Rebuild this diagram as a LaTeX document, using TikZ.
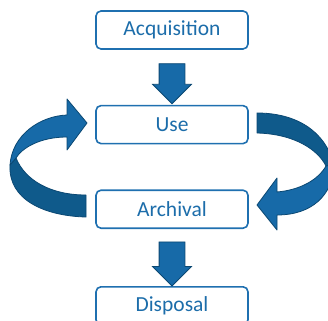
\documentclass[tikz,border=0pt]{standalone}
\usepackage{fontspec}
\setmainfont{Carlito}
\usetikzlibrary{positioning,shapes.arrows,calc}

\definecolor{boxblue}{HTML}{1F70B0}
\definecolor{textblue}{HTML}{1C6DAA}
\definecolor{arrowblue}{HTML}{176AA8}
\definecolor{arrowdark}{HTML}{0F5A8B}
\definecolor{arrowedge}{HTML}{0B4873}

\tikzset{
  stage/.style={draw=boxblue, line width=1.6pt, rounded corners=5pt, fill=white,
    minimum width=152pt, minimum height=38pt, inner sep=0pt,
    text=textblue, font=\fontsize{21.5}{25}\selectfont},
  downarrow/.style={single arrow, draw=arrowedge, fill=arrowblue, line width=0.8pt,
    rotate=-90, inner xsep=0pt, inner ysep=12.5pt, single arrow head extend=6.5pt},
  bandfront/.style={draw=arrowedge, fill=arrowblue, line width=0.8pt, line join=round},
  bandback/.style={draw=arrowedge, fill=arrowdark, line width=0.8pt, line join=round}
}

\begin{document}
\begin{tikzpicture}[x=1pt, y=-1pt]
\useasboundingbox (0,0) rectangle (328,320);
\clip (0,0) rectangle (328,320);

% the four stages
\node[stage] (acq) at (172,30) {Acquisition};
\node[stage, below=55pt of acq] (use) {Use};
\node[stage, below=45pt of use] (arch) {Archival};
\node[stage, below=57pt of arch] (disp) {Disposal};

% straight block arrows
\node[downarrow, minimum height=40pt] (a1) at ($(acq.south)!0.5!(use.north)$) {};
\node[downarrow, minimum height=44pt] (a2) at ($(arch.south)!0.5!(disp.north)$) {};

% curved arrow on the left: archival back to use
\draw[bandback] (86,217) .. controls (45,216) and (8,200) .. (10,165)
  -- (16,158) .. controls (25,180) and (50,195) .. (86,195) -- cycle;
\draw[bandfront] (10,165) .. controls (12,135) and (40,116) .. (67,115)
  -- (67,99) -- (87,123) -- (67,150) -- (67,137)
  .. controls (40,137) and (22,148) .. (16,158) -- cycle;

% curved arrow on the right: use on to archival
\draw[bandback] (257,113) .. controls (295,113) and (325,130) .. (334,165)
  -- (326,166) .. controls (318,150) and (295,134) .. (257,133) -- cycle;
\draw[bandfront] (334,165) .. controls (333,195) and (312,215) .. (277,215)
  -- (277,230) -- (257,205) -- (277,178) -- (277,192)
  .. controls (300,190) and (318,180) .. (326,166) -- cycle;
\end{tikzpicture}
\end{document}
